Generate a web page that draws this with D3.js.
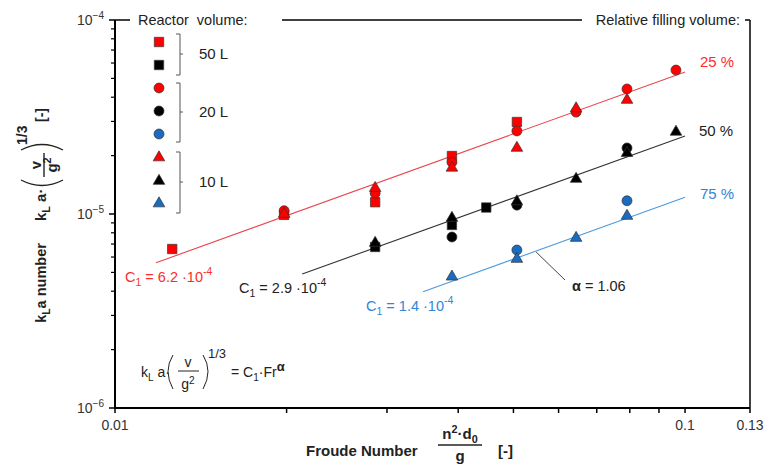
<!DOCTYPE html>
<html><head><meta charset="utf-8">
<script src="https://cdn.jsdelivr.net/npm/d3@7"></script>
<style>
html,body{margin:0;padding:0;background:#fff;}
svg{display:block;font-family:"Liberation Sans",Arial,sans-serif;}
</style></head>
<body>
<svg id="c" width="769" height="465"></svg>
<script>
// ---------- data (Froude number, kLa number) ----------
const xTickLabels = [0.01, 0.1, 0.13];
const xMinorTicks = [0.02,0.03,0.04,0.05,0.06,0.07,0.08,0.09];
const yMajorTicks = [1e-6, 1e-5, 1e-4];
const yTickExp = ["-6","-5","-4"];
const yMinorTicks = [2e-6,3e-6,4e-6,5e-6,6e-6,7e-6,8e-6,9e-6,2e-5,3e-5,4e-5,5e-5,6e-5,7e-5,8e-5,9e-5];

// 25 % filling (red)
const sq25 = [[0.0126,6.6e-6],[0.0198,0.99e-5],[0.0286,1.15e-5],[0.039,1.99e-5],[0.0507,2.98e-5]];
const ci25 = [[0.0198,1.04e-5],[0.0286,1.28e-5],[0.039,1.85e-5],[0.0507,2.68e-5],[0.0644,3.35e-5],[0.0791,4.41e-5],[0.0964,5.52e-5]];
const tr25 = [[0.0198,1.0e-5],[0.0286,1.36e-5],[0.039,1.73e-5],[0.0507,2.19e-5],[0.0644,3.5e-5],[0.0791,3.87e-5]];
// 50 % filling (black)
const sq50 = [[0.0286,6.76e-6],[0.039,8.78e-6],[0.0448,1.08e-5]];
const ci50 = [[0.039,7.61e-6],[0.0507,1.11e-5],[0.0791,2.19e-5]];
const tr50 = [[0.0286,7.09e-6],[0.039,9.54e-6],[0.0507,1.16e-5],[0.0644,1.515e-5],[0.0791,2.06e-5],[0.0964,2.65e-5]];
// 75 % filling (blue)
const ci75 = [[0.0507,6.52e-6],[0.0791,1.17e-5]];
const tr75 = [[0.039,4.75e-6],[0.0507,5.86e-6],[0.0644,7.52e-6],[0.0791,9.77e-6]];

// fitted model kLa = C1 * Fr^alpha
const fitC1 = [6.2e-4, 2.9e-4, 1.4e-4];
const fitC1Text = ["6.2","2.9","1.4"];
const fitAlpha = 1.06;
const fitStart = [0.0118, 0.0213, 0.0347];
const fitEnd = 0.1;
const fillLabels = ["25 %","50 %","75 %"];
const volumeLabels = ["50 L","20 L","10 L"];

// ---------- styles ----------
const RED="#ff0000", BLACK="#000000", BLUE="#1a6cc0";
const lineCol = ["#e8474d","#333333","#4a9be0"];
const textCol = ["#ff2b2b","#222222","#2f86d6"];

const svg = d3.select("#c");
const x = d3.scaleLog().domain([0.01,0.13]).range([115,750]);
const y = d3.scaleLog().domain([1e-6,1e-4]).range([408,20]);

// rich text helper
function rich(g, px, py, parts, o={}){
  const t = g.append("text").attr("x",px).attr("y",py)
    .attr("font-size",o.size||14).attr("fill",o.fill||"#222")
    .attr("text-anchor",o.anchor||"start")
    .attr("font-weight",o.bold?"bold":"normal")
    .style("white-space","pre");
  let off=0;
  parts.forEach(p=>{
    const s = typeof p==="string"?{t:p}:p;
    let target=0, fs=null;
    if(s.sub){target=s.shift||4; fs=(o.size||14)*0.72;}
    if(s.sup){target=-(s.shift||6); fs=(o.size||14)*0.72;}
    const ts=t.append("tspan").attr("dy",target-off).text(s.t);
    if(fs) ts.attr("font-size",s.fs||fs);
    if(s.bold) ts.attr("font-weight","bold");
    off=target;
  });
  return t;
}

// ---------- frame / axes ----------
const ax = svg.append("g").attr("stroke","#000").attr("fill","none");
ax.append("line").attr("x1",x(0.01)).attr("x2",x(0.01)).attr("y1",y(1e-4)).attr("y2",y(1e-6)+1).attr("stroke-width",2);
ax.append("line").attr("x1",x(0.01)-1).attr("x2",x(0.13)).attr("y1",y(1e-6)).attr("y2",y(1e-6)).attr("stroke-width",2);
ax.append("line").attr("x1",x(0.13)).attr("x2",x(0.13)).attr("y1",y(1e-4)).attr("y2",y(1e-6)+5).attr("stroke-width",1.5);
// top frame broken by headings
[[x(0.01),130],[282,582],[745,x(0.13)]].forEach(s=>{
  ax.append("line").attr("x1",s[0]).attr("x2",s[1]).attr("y1",y(1e-4)).attr("y2",y(1e-4)).attr("stroke-width",1.5);
});
// y ticks
yMajorTicks.forEach(v=>ax.append("line").attr("x1",x(0.01)-6).attr("x2",x(0.01)).attr("y1",y(v)).attr("y2",y(v)).attr("stroke-width",1.5));
yMinorTicks.forEach(v=>ax.append("line").attr("x1",x(0.01)-4).attr("x2",x(0.01)).attr("y1",y(v)).attr("y2",y(v)).attr("stroke-width",1.2));
// x ticks
xMinorTicks.concat([0.01,0.1]).forEach(v=>ax.append("line").attr("x1",x(v)).attr("x2",x(v)).attr("y1",y(1e-6)).attr("y2",y(1e-6)+5).attr("stroke-width",1.5));

const lab = svg.append("g");
yMajorTicks.forEach((v,i)=>{
  rich(lab, 104, y(v)+5, ["10",{t:"\u2212"+yTickExp[i].slice(1),sup:true,shift:6}],{size:14,fill:"#333",anchor:"end"});
});
xTickLabels.forEach(v=>{
  lab.append("text").attr("x",x(v)).attr("y",430).attr("text-anchor","middle")
    .attr("font-size",14).attr("fill","#333").text(String(v));
});

// headings
rich(lab,138,25,["Reactor  volume:"],{size:14.5,fill:"#222"});
rich(lab,740,25,["Relative filling volume:"],{size:14.5,fill:"#222",anchor:"end"});

// ---------- fit lines ----------
const fitLines = svg.append("g");
fitC1.forEach((c,i)=>{
  const p = [fitStart[i], fitEnd].map(f=>[x(f), y(c*Math.pow(f,fitAlpha))]);
  fitLines.append("line").attr("x1",p[0][0]).attr("y1",p[0][1]).attr("x2",p[1][0]).attr("y2",p[1][1])
    .attr("stroke",lineCol[i]).attr("stroke-width",1.1);
});
// alpha leader
const aFr = 0.0548;
svg.append("line").attr("x1",x(aFr)).attr("y1",y(fitC1[2]*Math.pow(aFr,fitAlpha))+1)
  .attr("x2",565).attr("y2",280).attr("stroke","#444").attr("stroke-width",1);

// ---------- markers ----------
const sqSym = d3.symbol().type(d3.symbolSquare).size(88);
const ciSym = d3.symbol().type(d3.symbolCircle).size(78);
const trSym = d3.symbol().type(d3.symbolTriangle).size(58);
const mk = svg.append("g").attr("stroke","#333").attr("stroke-width",0.7);
function draw(data, sym, fill){
  mk.selectAll(null).data(data).enter().append("path")
    .attr("d",sym).attr("fill",fill)
    .attr("transform",d=>`translate(${x(d[0])},${y(d[1])})`);
}
draw(sq25,sqSym,RED); draw(sq50,sqSym,BLACK);
draw(ci25,ciSym,RED); draw(ci50,ciSym,BLACK); draw(ci75,ciSym,BLUE);
draw(tr25,trSym,RED); draw(tr50,trSym,BLACK); draw(tr75,trSym,BLUE);

// ---------- legend ----------
const legItems = [[sqSym,RED],[sqSym,BLACK],[ciSym,RED],[ciSym,BLACK],[ciSym,BLUE],[trSym,RED],[trSym,BLACK],[trSym,BLUE]];
const legY = [42,65,88,111,134,157.5,181,203.5];
const lg = svg.append("g");
legItems.forEach((it,i)=>{
  lg.append("path").attr("d",it[0]).attr("fill",it[1]).attr("stroke","#333").attr("stroke-width",0.7)
    .attr("transform",`translate(159,${legY[i]})`);
});
const brackets = [[34,75,54],[83,142,112],[152,213,182]];
brackets.forEach((b,i)=>{
  lg.append("path").attr("d",`M176,${b[0]}H180V${b[1]}H176M180,${b[2]}H183`)
    .attr("fill","none").attr("stroke","#555").attr("stroke-width",1);
  lg.append("text").attr("x",199).attr("y",b[2]+5).attr("font-size",15).attr("fill","#222").text(volumeLabels[i]);
});

// ---------- annotations ----------
const ann = svg.append("g");
[[700,67],[699,136],[700,199]].forEach((p,i)=>{
  ann.append("text").attr("x",p[0]).attr("y",p[1]).attr("font-size",15).attr("fill",textCol[i]).text(fillLabels[i]);
});
[[125,282],[239,293],[366,311]].forEach((p,i)=>{
  rich(ann,p[0],p[1],["C",{t:"1",sub:true,shift:4},{t:" = "+fitC1Text[i]+" \u00b710"},{t:"-4",sup:true,shift:7}],{size:14.5,fill:textCol[i]});
});
rich(ann,572,291,[{t:"\u03b1",bold:true}," = "+fitAlpha.toFixed(2)],{size:14.5,fill:"#222"});

// equation inside plot
const eq = svg.append("g").attr("fill","#222");
rich(eq,141,377,["k",{t:"L",sub:true,shift:4},{t:" a\u00b7"}],{size:14});
eq.append("text").attr("x",188).attr("y",367).attr("text-anchor","middle").attr("font-size",14).text("v");
eq.append("line").attr("x1",178).attr("x2",199).attr("y1",371).attr("y2",371).attr("stroke","#222").attr("stroke-width",1);
rich(eq,188,389,["g",{t:"2",sup:true,shift:5}],{size:14,anchor:"middle"});
eq.append("path").attr("d","M173,355 Q163,371 173,389 M203,355 Q213,371 203,389").attr("fill","none").attr("stroke","#222").attr("stroke-width",1);
eq.append("text").attr("x",208).attr("y",358).attr("font-size",13).text("1/3");
rich(eq,231,377,["= C",{t:"1",sub:true,shift:4},{t:"\u00b7Fr"},{t:"\u03b1",sup:true,shift:6,bold:true,fs:13}],{size:14});

// x axis title
const xt = svg.append("g").attr("fill","#222").attr("font-weight","bold");
xt.append("text").attr("x",306).attr("y",456).attr("font-size",15).attr("font-weight","bold").text("Froude Number");
rich(xt,460,439,["n",{t:"2",sup:true,shift:6},{t:"\u00b7d"},{t:"0",sub:true,shift:4}],{size:15,bold:true,anchor:"middle",fill:"#222"});
xt.append("line").attr("x1",438).attr("x2",482).attr("y1",445).attr("y2",445).attr("stroke","#222").attr("stroke-width",1.3);
xt.append("text").attr("x",460).attr("y",461).attr("text-anchor","middle").attr("font-size",15).attr("font-weight","bold").text("g");
xt.append("text").attr("x",498).attr("y",456).attr("font-size",15).attr("font-weight","bold").text("[-]");

// y axis title (rotated)
const yt = svg.append("g").attr("transform","translate(46,0) rotate(-90)").attr("fill","#222");
rich(yt,-283,0,["k",{t:"L",sub:true,shift:4},{t:"a number"}],{size:14.5,bold:true,anchor:"middle",fill:"#222"});
rich(yt,-221,0,["k",{t:"L",sub:true,shift:4},{t:" a\u00b7"}],{size:15,bold:true,fill:"#222"});
yt.append("text").attr("x",-165).attr("y",-5).attr("text-anchor","middle").attr("font-size",15).attr("font-weight","bold").text("v");
yt.append("line").attr("x1",-177).attr("x2",-153).attr("y1",-2).attr("y2",-2).attr("stroke","#222").attr("stroke-width",1.4);
rich(yt,-165,11,["g",{t:"2",sup:true,shift:6}],{size:15,bold:true,anchor:"middle",fill:"#222"});
yt.append("path").attr("d","M-180,-25 Q-191,-4 -180,17 M-150,-25 Q-139,-4 -150,17").attr("fill","none").attr("stroke","#222").attr("stroke-width",1.3);
yt.append("text").attr("x",-145).attr("y",-19).attr("font-size",14).attr("font-weight","bold").text("1/3");
yt.append("text").attr("x",-122).attr("y",0).attr("font-size",14).attr("font-weight","bold").text("[-]");
</script>
</body></html>
